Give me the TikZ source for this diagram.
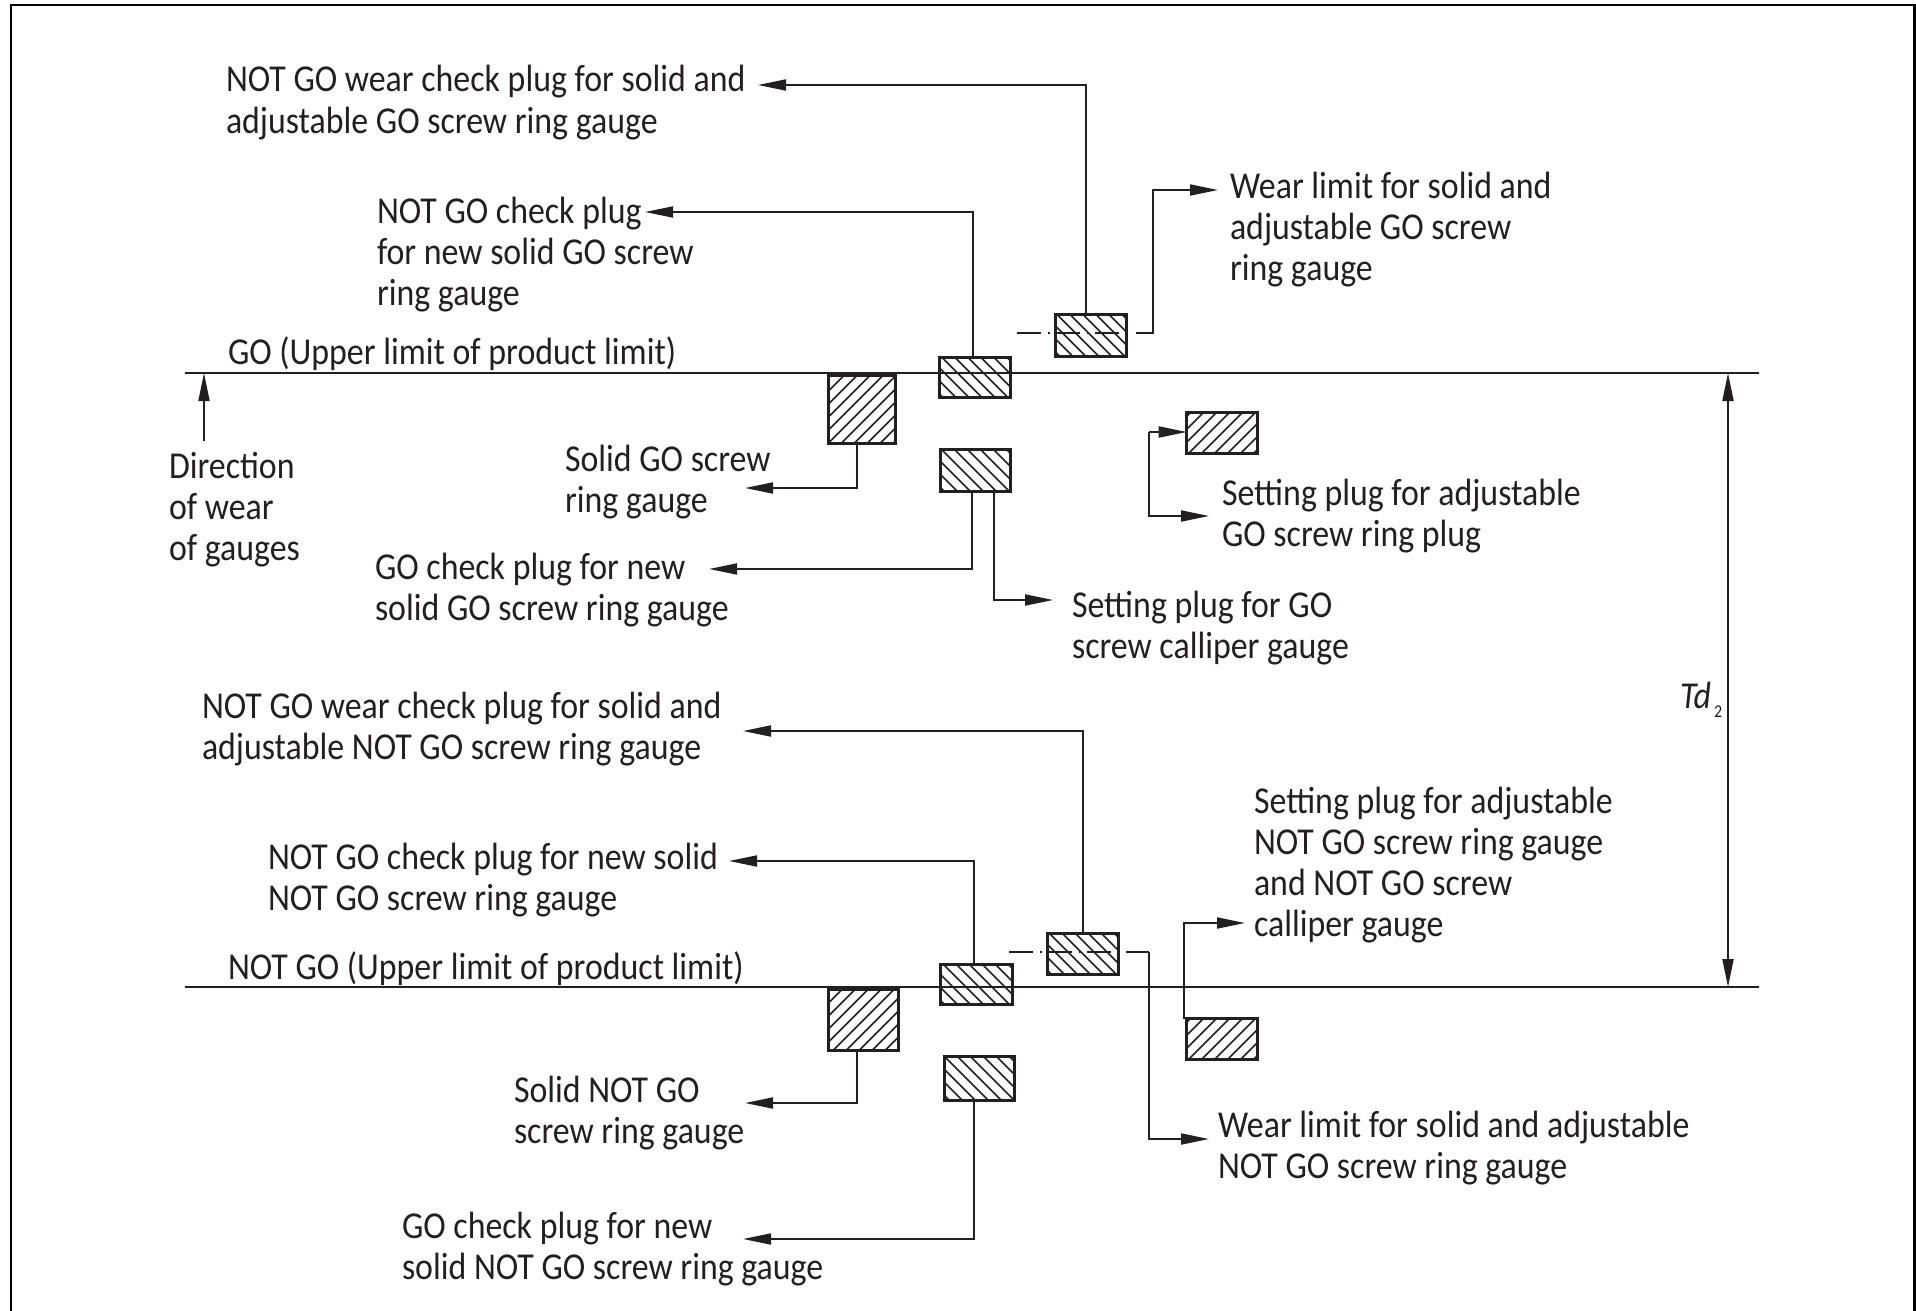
\documentclass[tikz,border=0pt]{standalone}
\usepackage{fontspec}
\setmainfont[FakeStretch=0.891]{Carlito}
\usetikzlibrary{arrows.meta,calc}
\definecolor{ink}{HTML}{231F20}
\tikzset{
  conn/.style={draw=ink,line width=1.9pt,-{Triangle[length=28pt,width=11pt,color=ink]}},
  ref/.style={draw=ink,line width=2pt},
  dashdotline/.style={draw=ink,line width=1.5pt,dash pattern=on 24pt off 7pt on 1.5pt off 6.5pt},
  gaugebox/.style={draw=ink,line width=3.4pt,inner sep=0pt,outer sep=0pt},
  hatchline/.style={draw=ink,line width=1.5pt},
  lab/.style={anchor=north west,inner sep=0pt,outer sep=0pt,align=left,text=ink,font=\fontsize{38}{41}\selectfont},
}
% name, x1, y1, x2, y2, hatch direction (1 forward, -1 backward)
\newcommand{\gaugeBox}[6]{%
  \pgfmathsetmacro{\cxx}{(#2+#4)/2}\pgfmathsetmacro{\cyy}{(#3+#5)/2}%
  \pgfmathsetmacro{\wdd}{#4-#2-3.4}\pgfmathsetmacro{\htt}{#5-#3-3.4}%
  \node[gaugebox,minimum width=\wdd pt,minimum height=\htt pt] (#1) at (\cxx,\cyy) {};
  \begin{scope}
    \clip (#1.south west) rectangle (#1.north east);
    \foreach \i in {-130,-117,...,130}
      \draw[hatchline] ($(\cxx,\cyy)+(\i,0)+(-100,#6*100)$) -- ($(\cxx,\cyy)+(\i,0)+(100,#6*-100)$);
  \end{scope}}
\newcommand{\lab}[4]{\node[lab] (#1) at (#2,#3-30) {\rule{0pt}{30pt}#4};}
\begin{document}
\begin{tikzpicture}[x=1pt,y=-1pt]
\useasboundingbox (0,0) rectangle (1916,1311);
\draw[black,line width=2.2pt] (11,1311) -- (11,5) -- (1914.5,5) -- (1914.5,1311);
% reference lines
\coordinate (goL) at (185,373); \coordinate (goR) at (1759,373);
\coordinate (ngL) at (185,987); \coordinate (ngR) at (1759,987);
\draw[ref] (goL) -- (goR);
\draw[ref] (ngL) -- (ngR);
% gauge boxes
\gaugeBox{b1}{1054}{313}{1128}{358}{-1}
\gaugeBox{b2}{938}{356}{1012}{399}{-1}
\gaugeBox{b3}{827}{374}{897}{445}{1}
\gaugeBox{b4}{939}{448}{1012}{493}{-1}
\gaugeBox{b5}{1185}{411}{1259}{455}{1}
\gaugeBox{b6}{1046}{932}{1120}{976}{-1}
\gaugeBox{b7}{939}{963}{1014}{1006}{-1}
\gaugeBox{b8}{827}{988}{900}{1052}{1}
\gaugeBox{b9}{943}{1055}{1016}{1102}{-1}
\gaugeBox{b10}{1185}{1017}{1259}{1061}{1}
% labels
\lab{t1}{226}{92}{NOT GO wear check plug for solid and\\adjustable GO screw ring gauge}
\lab{t2}{377}{223}{NOT GO check plug\\for new solid GO screw\\ring gauge}
\lab{t3}{1230}{198}{Wear limit for solid and\\adjustable GO screw\\ring gauge}
\lab{t4}{228}{364}{GO (Upper limit of product limit)}
\lab{t5}{169}{478}{Direction\\of wear\\of gauges}
\lab{t6}{565}{471}{Solid GO screw\\ring gauge}
\lab{t7}{1222}{505}{Setting plug for adjustable\\GO screw ring plug}
\lab{t8}{375}{579}{GO check plug for new\\solid GO screw ring gauge}
\lab{t9}{1072}{617}{Setting plug for GO\\screw calliper gauge}
\lab{t10}{202}{718}{NOT GO wear check plug for solid and\\adjustable NOT GO screw ring gauge}
\lab{t11}{1254}{813}{Setting plug for adjustable\\NOT GO screw ring gauge\\and NOT GO screw\\calliper gauge}
\lab{t12}{268}{869}{NOT GO check plug for new solid\\NOT GO screw ring gauge}
\lab{t13}{228}{979}{NOT GO (Upper limit of product limit)}
\lab{t14}{514}{1102}{Solid NOT GO\\screw ring gauge}
\lab{t15}{1218}{1137}{Wear limit for solid and adjustable\\NOT GO screw ring gauge}
\lab{t16}{402}{1238}{GO check plug for new\\solid NOT GO screw ring gauge}
\lab{td}{1680}{708}{\textit{Td}\raisebox{-9pt}{\hspace{3pt}\fontsize{18}{18}\selectfont 2}}
% arrow tips beside the labels
\coordinate (a1) at (758,85);
\coordinate (a2) at (1218,190);
\coordinate (a3) at (645,212);
\coordinate (a4) at (745,488);
\coordinate (a5) at (709,569);
\coordinate (a6) at (1053,600);
\coordinate (a7) at (1209,516);
\coordinate (a8) at (743,731);
\coordinate (a9) at (729,861);
\coordinate (a10) at (745,1103);
\coordinate (a11) at (743,1239);
\coordinate (a12) at (1245,923);
\coordinate (a13) at (1209,1139);
\coordinate (dir) at (204,441);
\coordinate (k5) at (1149,432);
% connectors
\draw[conn] (1086,0 |- b1.north) |- (a1);
\draw[conn] (973,0 |- b2.north) |- (a3);
\draw[conn] (857,0 |- b3.south) |- (a4);
\draw[conn] (972,0 |- b4.south) |- (a5);
\draw[conn] (994,0 |- b4.south) |- (a6);
\draw[conn] (1083,0 |- b6.north) |- (a8);
\draw[conn] (974,0 |- b7.north) |- (a9);
\draw[conn] (857,0 |- b8.south) |- (a10);
\draw[conn] (974,0 |- b9.south) |- (a11);
\draw[conn] (1184,0 |- b10.north) |- (a12);
\draw[conn] (k5) |- (a7);
\draw[conn] (k5) -- (b5.west |- k5);
\draw[conn] (dir) -- (dir |- goL);
\draw[draw=ink,line width=1.9pt,{Triangle[length=28pt,width=11pt,color=ink]}-{Triangle[length=28pt,width=11pt,color=ink]}] (1728,373) -- (1728,987);
% centre lines of the wear boxes
\draw[dashdotline] (1017,333) -- (1134,333);
\draw[conn] (1136,333) -- (1153,333) |- (a2);
\draw[dashdotline] (1009,952) -- (1149,952);
\draw[conn] (1149,952) |- (a13);
\end{tikzpicture}
\end{document}
